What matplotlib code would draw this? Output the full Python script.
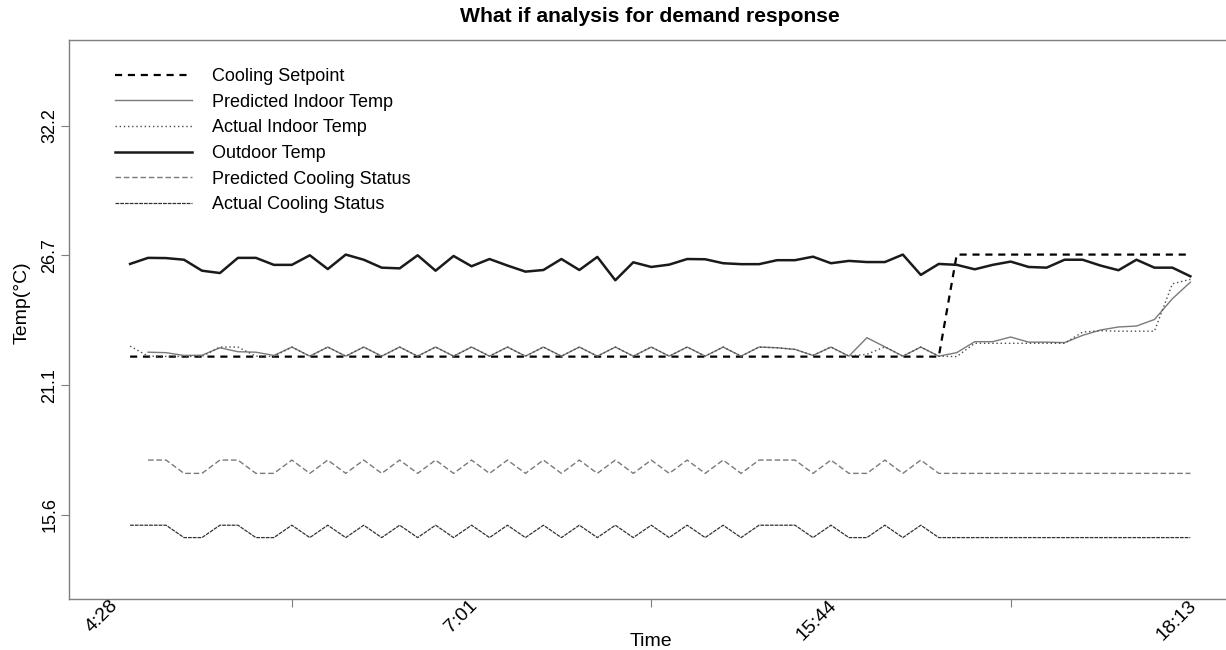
import matplotlib
matplotlib.use("Agg")
import matplotlib.pyplot as plt
import numpy as np

plt.rcParams['font.family'] = ['Liberation Sans', 'DejaVu Sans']

# ---- data (°C) ----
time_idx = list(range(1, 61))

cooling_setpoint = [22.33] * 46 + [26.70] * 14

outdoor_temp = [26.30, 26.56, 26.55, 26.48, 26.01, 25.91, 26.56, 26.56, 26.26, 26.26,
                26.67, 26.08, 26.70, 26.48, 26.14, 26.11, 26.67, 26.01, 26.64, 26.20,
                26.51, 26.23, 25.97, 26.04, 26.51, 26.04, 26.60, 25.60, 26.37, 26.17,
                26.27, 26.51, 26.50, 26.33, 26.29, 26.29, 26.46, 26.46, 26.61, 26.33,
                26.43, 26.38, 26.38, 26.70, 25.83, 26.30, 26.26, 26.07, 26.26, 26.40,
                26.17, 26.14, 26.48, 26.48, 26.23, 26.03, 26.48, 26.14, 26.14, 25.77]

predicted_indoor = [np.nan, 22.52, 22.50, 22.38, 22.39, 22.71, 22.54, 22.52, 22.38, 22.74,
                    22.35, 22.74, 22.35, 22.74, 22.35, 22.74, 22.35, 22.74, 22.35, 22.74,
                    22.35, 22.74, 22.35, 22.74, 22.35, 22.74, 22.35, 22.74, 22.35, 22.74,
                    22.35, 22.74, 22.35, 22.74, 22.35, 22.74, 22.71, 22.64, 22.38, 22.74,
                    22.35, 23.14, 22.75, 22.35, 22.74, 22.35, 22.50, 22.97, 22.97, 23.17,
                    22.95, 22.95, 22.93, 23.24, 23.47, 23.60, 23.64, 23.92, 24.81, 25.52]

actual_indoor = [22.78, 22.35, 22.34, 22.34, 22.34, 22.74, 22.74, 22.35, 22.34, 22.74,
                 22.35, 22.74, 22.35, 22.74, 22.35, 22.74, 22.35, 22.74, 22.35, 22.74,
                 22.35, 22.74, 22.35, 22.74, 22.35, 22.74, 22.35, 22.74, 22.35, 22.74,
                 22.35, 22.74, 22.35, 22.74, 22.35, 22.74, 22.71, 22.64, 22.38, 22.74,
                 22.35, 22.43, 22.75, 22.35, 22.74, 22.35, 22.33, 22.90, 22.90, 22.90,
                 22.90, 22.90, 22.90, 23.38, 23.44, 23.42, 23.42, 23.42, 25.45, 25.64]

# cooling status pattern (1 = on, 0 = off)
status = [1, 1, 1, 0, 0, 1, 1, 0, 0, 1,
          0, 1, 0, 1, 0, 1, 0, 1, 0, 1,
          0, 1, 0, 1, 0, 1, 0, 1, 0, 1,
          0, 1, 0, 1, 0, 1, 1, 1, 0, 1,
          0, 0, 1, 0, 1, 0, 0, 0, 0, 0,
          0, 0, 0, 0, 0, 0, 0, 0, 0, 0]
pred_status_levels = (17.33, 17.90)
act_status_levels = (14.58, 15.11)
predicted_status = [np.nan] + [pred_status_levels[s] for s in status[1:]]
actual_status = [act_status_levels[s] for s in status]

ytick_vals = [15.56, 21.11, 26.67, 32.22]
ytick_labels = ["15.6", "21.1", "26.7", "32.2"]
xtick_label_pos = [0, 20, 40, 60]
xtick_labels = ["4:28", "7:01", "15:44", "18:13"]
xtick_mark_pos = [10, 30, 50]

# ---- figure ----
W, H = 1226, 650
fig = plt.figure(figsize=(W / 100, H / 100), dpi=100)
left_px, right_px, top_px, bot_px = 69, 1233.5, 40, 599
ax = fig.add_axes([left_px / W, 1 - bot_px / H, (right_px - left_px) / W, (bot_px - top_px) / H])

ax.plot(time_idx, cooling_setpoint, color='black', lw=1.6, dashes=(3.2, 2.6), label='Cooling Setpoint')
ax.plot(time_idx, predicted_indoor, color='#7a7a7a', lw=1.0, label='Predicted Indoor Temp')
ax.plot(time_idx, actual_indoor, color='#4a4a4a', lw=1.0, dashes=(1, 2), label='Actual Indoor Temp')
ax.plot(time_idx, outdoor_temp, color='#1a1a1a', lw=1.8, label='Outdoor Temp')
ax.plot(time_idx, predicted_status, color='#7a7a7a', lw=1.0, dashes=(4, 2), label='Predicted Cooling Status')
ax.plot(time_idx, actual_status, color='#333333', lw=0.9, dashes=(3, 0.8), label='Actual Cooling Status')

ax.set_xlim(-2.4, 62.4)
ax.set_ylim(11.95, 35.89)

ax.spines['right'].set_visible(False)
for sp in ['left', 'bottom', 'top']:
    ax.spines[sp].set_color('#7f7f7f')
    ax.spines[sp].set_linewidth(1.0)

ax.set_yticks(ytick_vals)
ax.set_yticklabels(ytick_labels, rotation=90, va='center', fontsize=13)
ax.tick_params(axis='y', direction='out', length=6, color='#7f7f7f', pad=1.5)

ax.set_xticks(xtick_mark_pos)
ax.set_xticklabels([])
ax.tick_params(axis='x', direction='out', length=6, color='#7f7f7f')
for xp, lab in zip(xtick_label_pos, xtick_labels):
    ax.text(xp - 0.15, 0.004, lab, transform=ax.get_xaxis_transform(), rotation=45,
            ha='right', va='top', rotation_mode='anchor', fontsize=14)

ax.set_xlabel('Time', fontsize=14, labelpad=15)
fig.text(22 / W, 1 - 303 / H, 'Temp(°C)', rotation=90, ha='center', va='center', fontsize=14)
fig.text(650 / W, 1 - 17 / H, 'What if analysis for demand response', ha='center', va='center',
         fontsize=15.2, fontweight='bold')

leg = ax.legend(loc='upper left',
                bbox_to_anchor=((115 - left_px) / (right_px - left_px), 1 - (68 - top_px) / (bot_px - top_px)),
                frameon=False, fontsize=13, handlelength=4.26, handletextpad=1.1,
                labelspacing=0.48, borderpad=0, borderaxespad=0)

fig.savefig('out.png', dpi=100)
